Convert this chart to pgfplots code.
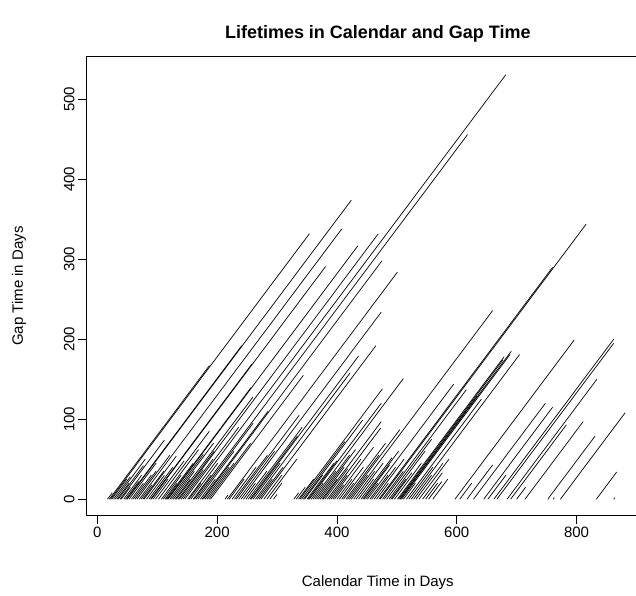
\documentclass[border=0pt]{standalone}
\usepackage{pgfplots}
\pgfplotsset{compat=1.18}
\usepackage{pgfplotstable}
\usepackage{fontspec}
\setmainfont{Liberation Sans}

\pgfplotstableread{
s g
17 8
20 167
22 332
24 25
27 28
30 50
33 20
35 42
38 74
40 15
44 30
47 22
49 192
50 374
53 45
57 20
60 30
63 35
66 55
70 338
73 18
76 35
78 54
82 30
86 40
89 169
90 291
93 25
97 48
102 85
107 62
110 30
113 20
115 45
117 140
118 317
121 56
124 70
127 35
130 25
132 128
135 60
137 332
140 37
143 50
146 90
151 531
153 20
156 45
160 30
162 456
165 95
168 60
172 25
175 110
177 298
180 40
183 45
186 70
189 155
213 5
217 284
220 25
225 40
229 55
232 105
236 60
240 234
244 20
248 35
252 90
255 79
257 179
260 45
264 158
267 25
270 40
273 192
278 30
283 50
288 20
294 6
328 8
332 15
336 25
338 138
341 72
344 99
346 30
350 45
352 48
354 120
357 20
360 151
363 35
366 55
369 62
372 40
375 25
377 97
380 38
384 89
387 30
390 50
393 18
396 65
400 25
404 40
408 20
411 70
415 55
418 87
421 30
424 236
428 35
432 45
436 25
440 52
443 60
445 43
448 20
451 144
455 30
458 40
462 50
466 20
470 290
472 344
476 35
479 137
483 75
487 60
490 25
492 33
496 45
501 178
503 174
505 129
506 185
508 181
511 20
516 125
520 40
524 181
528 30
532 45
537 50
543 33
548 20
553 22
560 25
597 199
605 20
617 43
628 120
645 115
652 30
662 200
667 195
684 150
690 93
700 15
714 97
752 79
761 2
773 108
833 34
862 2
}\lifetimes

\begin{document}
\begin{tikzpicture}
\begin{axis}[
  scale only axis, width=550pt, height=459.3pt,
  xmin=-19, xmax=898.6, ymin=-20.6, ymax=553.5,
  xtick={0,200,400,600,800}, ytick={0,100,200,300,400,500},
  tick align=outside, xtick pos=bottom, ytick pos=left,
  major tick length=8pt,
  tick style={black, line width=0.8pt},
  axis line style={draw=none},
  clip=false,
  /pgf/number format/assume math mode=true,
  ticklabel style={font=\fontsize{15}{18}\selectfont},
  yticklabel style={rotate=90, anchor=south},
  xticklabel style={anchor=north},
  xlabel={Calendar Time in Days}, ylabel={Gap Time in Days},
  label style={font=\fontsize{15}{18}\selectfont},
  xlabel style={at={(axis description cs:0.531,-0.1459)}, anchor=center},
  ylabel style={at={(axis description cs:-0.1218,0.5)}, anchor=center},
  title={Lifetimes in Calendar and Gap Time},
  title style={font=\bfseries\fontsize{18}{21}\selectfont, at={(axis description cs:0.531,1.0364)}, anchor=center},
]
\addplot[black, line width=0.7pt, quiver={u=\thisrow{g}, v=\thisrow{g}}] table[x=s, y expr=0] {\lifetimes};
\draw[black, line width=0.8pt] (rel axis cs:1,1) -- (rel axis cs:0,1) -- (rel axis cs:0,0) -- (rel axis cs:1,0);
\path (rel axis cs:0,0) ++(-86pt,-80pt) rectangle ++(636pt,596pt);
\end{axis}
\end{tikzpicture}
\end{document}
